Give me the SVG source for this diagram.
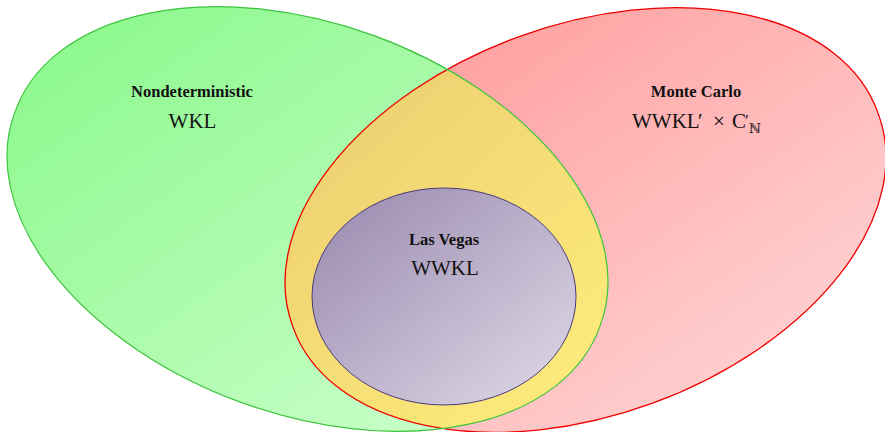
<svg xmlns="http://www.w3.org/2000/svg" width="885" height="432" viewBox="0 0 885 432">
<defs>
<linearGradient id="gGreen" x1="0" y1="0" x2="1" y2="1"><stop offset="0" stop-color="#88f888"/><stop offset="1" stop-color="#d2ffd2"/></linearGradient>
<linearGradient id="gRed" x1="0" y1="0" x2="1" y2="1"><stop offset="0" stop-color="#ff9494"/><stop offset="1" stop-color="#ffdcdc"/></linearGradient>
<linearGradient id="gYellow" gradientUnits="userSpaceOnUse" x1="300" y1="80" x2="610" y2="420"><stop offset="0" stop-color="#eccd70"/><stop offset="1" stop-color="#ffee7c"/></linearGradient>
<linearGradient id="gPurple" x1="0" y1="0" x2="1" y2="1"><stop offset="0" stop-color="#9787ad"/><stop offset="1" stop-color="#e0dbe8"/></linearGradient>
<clipPath id="clipGreen"><path d="M600,326.1 A311.5,193.6 20.1 1 0 15,111.9 A311.5,193.6 20.1 1 0 600,326.1 Z"/></clipPath>
<style>
.lbl{font-family:"Liberation Serif","DejaVu Serif",serif;font-weight:bold;font-size:16.5px;fill:#111;text-anchor:middle}
.math{font-family:"Liberation Serif","DejaVu Serif",serif;font-size:21px;fill:#111}
</style>
</defs>
<g id="nondeterministic">
<path d="M600,326.1 A311.5,193.6 20.1 1 0 15,111.9 A311.5,193.6 20.1 1 0 600,326.1 Z" fill="url(#gGreen)"/>
</g>
<g id="montecarlo">
<path d="M878,112.9 A311.5,193.6 -20.1 1 0 293,327.1 A311.5,193.6 -20.1 1 0 878,112.9 Z" fill="url(#gRed)"/>
</g>
<g id="intersection">
<path d="M878,112.9 A311.5,193.6 -20.1 1 0 293,327.1 A311.5,193.6 -20.1 1 0 878,112.9 Z" fill="url(#gYellow)" clip-path="url(#clipGreen)"/>
</g>
<g id="outlines" fill="none">
<path d="M878,112.9 A311.5,193.6 -20.1 1 0 293,327.1 A311.5,193.6 -20.1 1 0 878,112.9 Z" stroke="#f00000" stroke-width="1.3"/>
<path d="M600,326.1 A311.5,193.6 20.1 1 0 15,111.9 A311.5,193.6 20.1 1 0 600,326.1 Z" stroke="#3cc43c" stroke-width="1.2"/>
</g>
<g id="lasvegas">
<ellipse cx="444" cy="296.5" rx="132" ry="108.5" fill="url(#gPurple)" stroke="#4a3a78" stroke-width="1"/>
<text class="lbl" x="444" y="245">Las Vegas</text>
<text class="math" x="445" y="275" text-anchor="middle">WWKL</text>
</g>
<g id="labels-nondeterministic">
<text class="lbl" x="192" y="97">Nondeterministic</text>
<text class="math" x="192.5" y="128" text-anchor="middle">WKL</text>
</g>
<g id="labels-montecarlo">
<text class="lbl" x="696" y="97">Monte Carlo</text>
<text class="math"><tspan x="632" y="128">WWKL</tspan><tspan x="698" y="128">′</tspan><tspan x="713" y="128">×</tspan><tspan x="732" y="128">C</tspan><tspan x="745" y="126" font-size="17">′</tspan><tspan x="749" y="133" font-size="13">ℕ</tspan></text>
</g>
</svg>
